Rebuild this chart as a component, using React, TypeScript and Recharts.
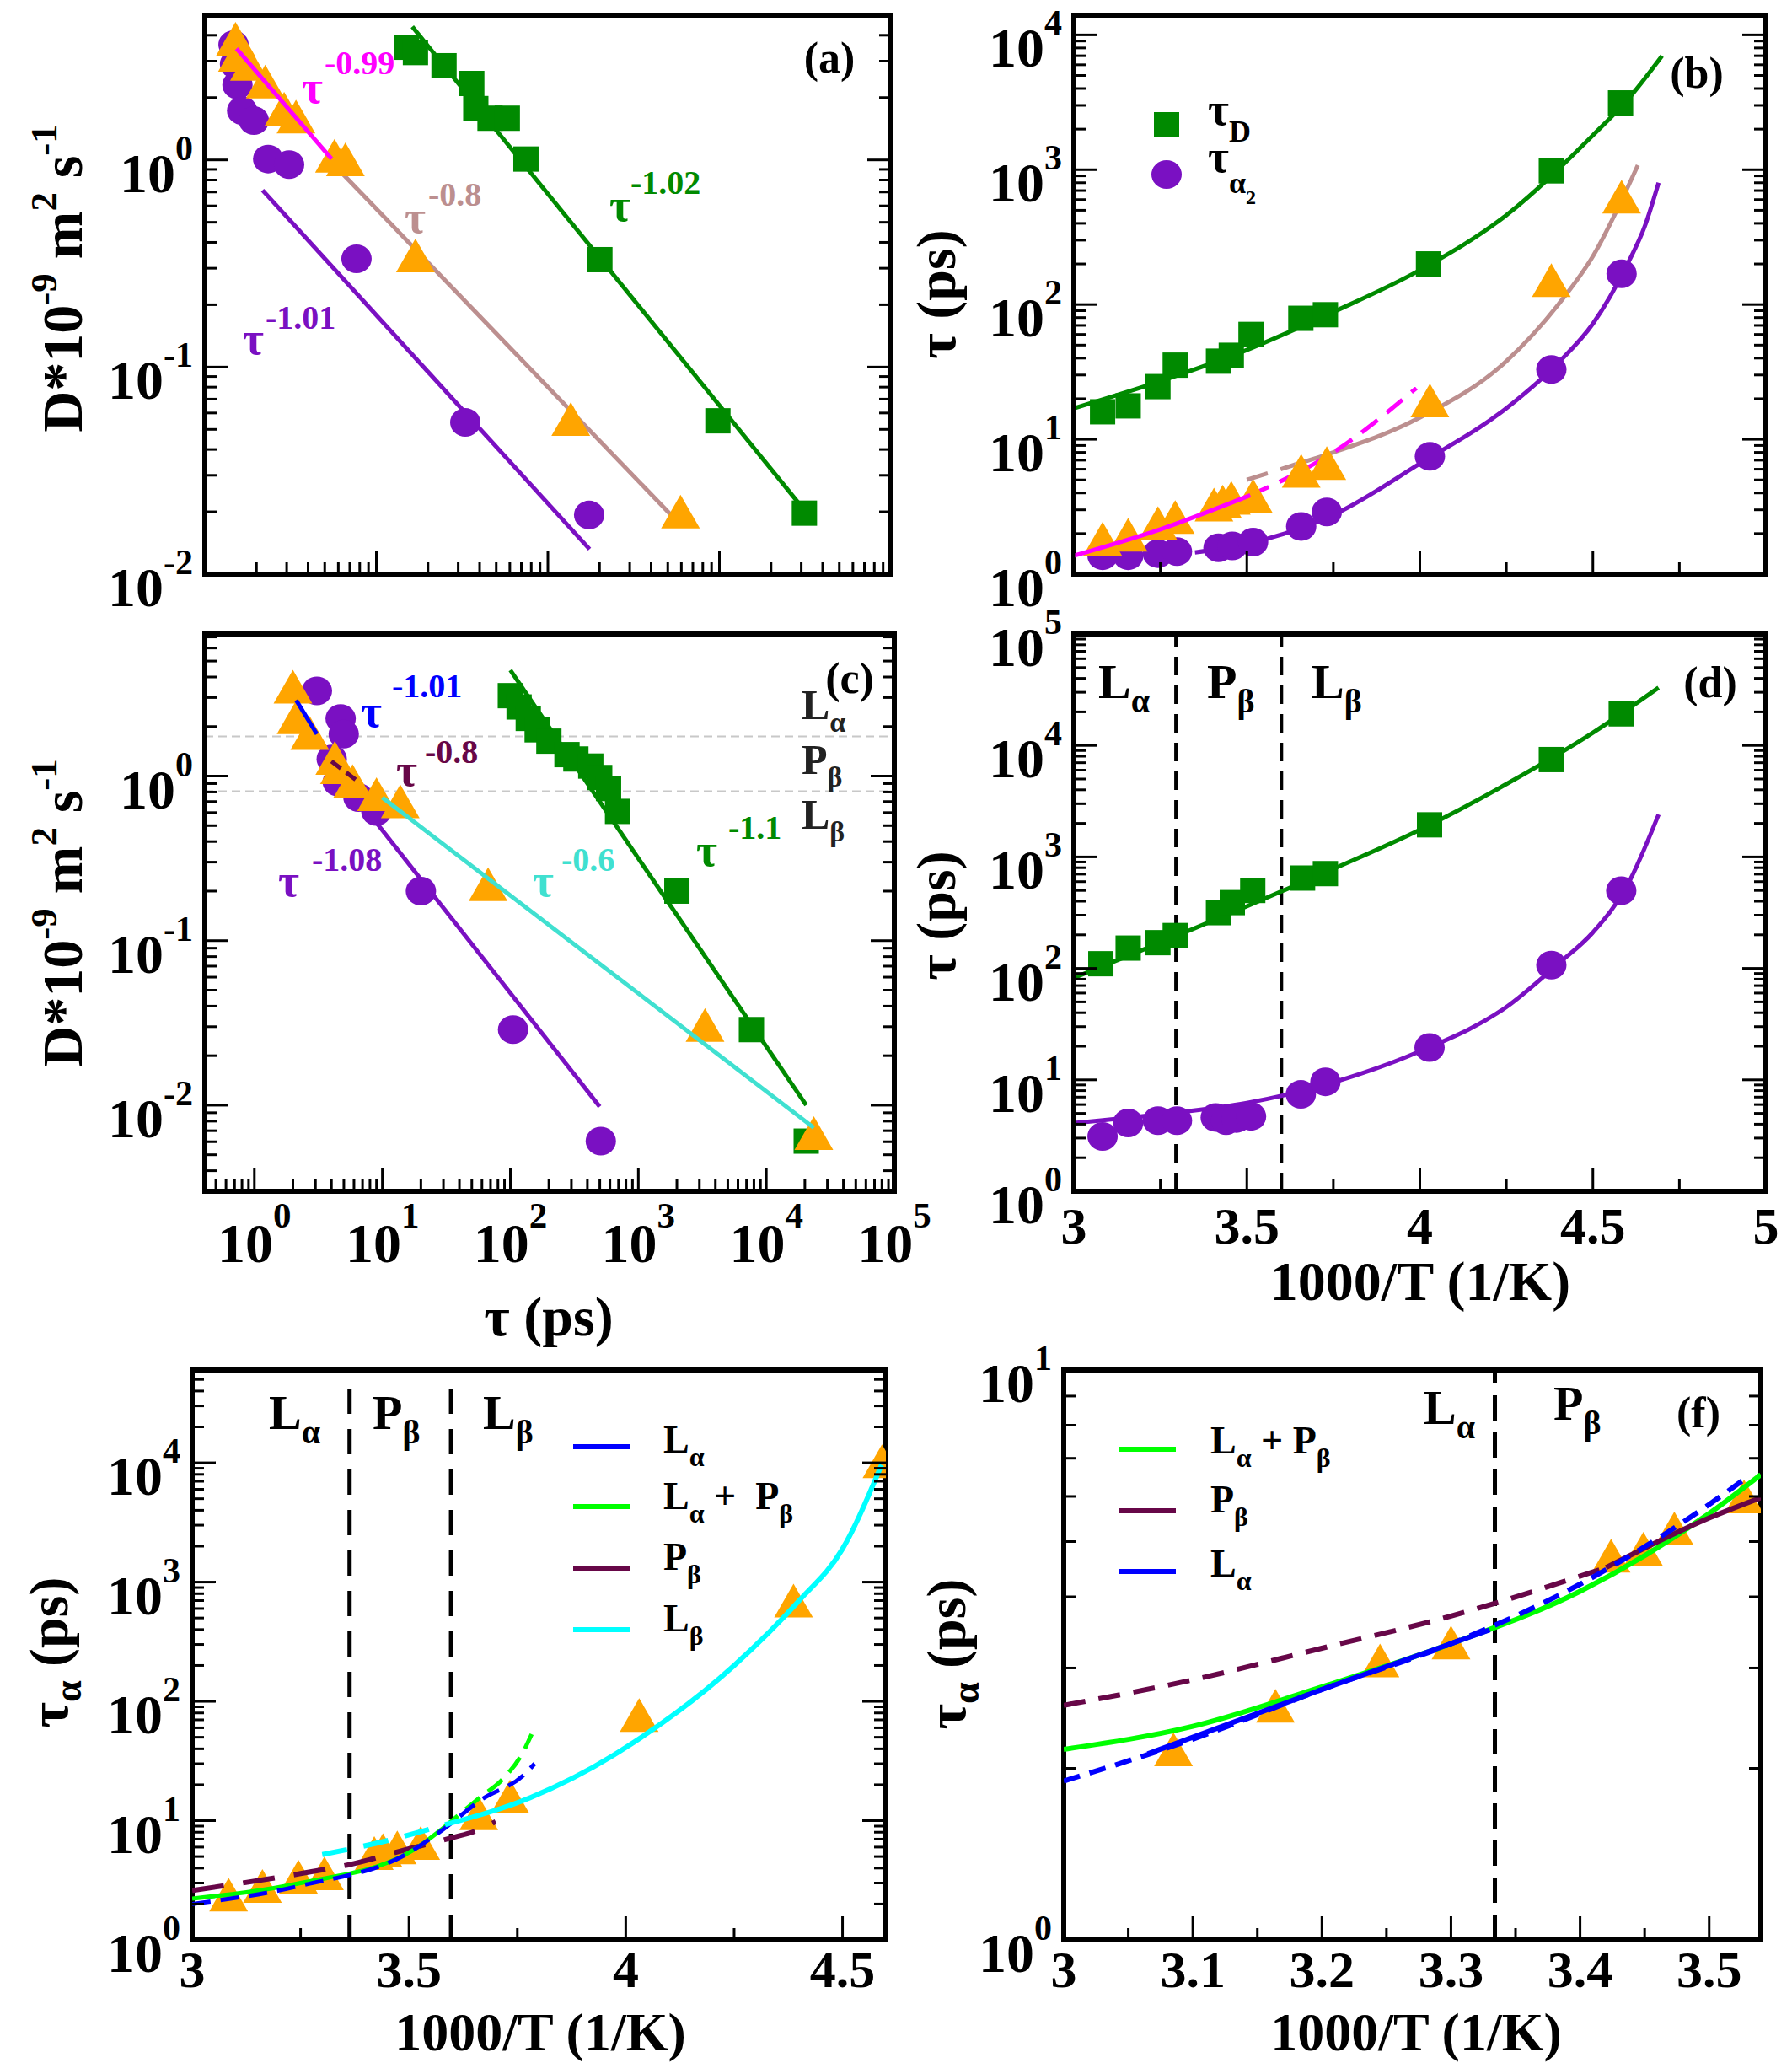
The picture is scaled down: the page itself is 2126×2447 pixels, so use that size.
import React from "react";
import { ComposedChart, XAxis, YAxis, Line, Scatter, ReferenceLine } from "recharts";

const FONT = "'Liberation Serif', 'Times New Roman', serif";
const GREEN = "#008a00";
const PURPLE = "#7a10c2";
const ORANGE = "#ffa500";
const ROSY = "#bc8f8f";
const MAGENTA = "#ff00ff";
const BLUE = "#0000ff";
const MAROON = "#670748";
const TURQ = "#40e0d0";
const CYAN = "#00ffff";
const LIME = "#00ff00";

// ---------- (a) D vs tau, log-log
const aSquares = [[15, 3.5], [16.9, 3.3], [24.8, 2.85], [36, 2.34], [38, 1.77], [46, 1.59], [58, 1.59], [74.5, 1.01], [201, 0.33], [980, 0.055], [3130, 0.0197]];
const aCircles = [[1.47, 3.6], [1.5, 2.9], [1.55, 2.3], [1.65, 1.73], [1.93, 1.55], [2.34, 1.01], [3.1, 0.95], [7.66, 0.333], [33, 0.054], [174, 0.0193]];
const aTriangles = [[1.51, 3.7], [1.55, 3.1], [1.82, 2.8], [2.25, 2.3], [2.9, 1.7], [3.4, 1.56], [5.7, 1.01], [6.6, 0.97], [16.9, 0.333], [136, 0.054], [593, 0.0193]];
const aFitGreen = [[16.2, 4.4], [2900, 0.022]];
const aFitPurple = [[2.17, 0.714], [175, 0.0132]];
const aFitMagenta = [[1.53, 3.45], [5.49, 1.01]];
const aFitBrown = [[6.4, 0.853], [593, 0.0173]];

// ---------- (b) tau vs 1000/T
const bSquares = [[3.083, 16], [3.157, 17.7], [3.243, 24.6], [3.293, 35.5], [3.418, 38], [3.455, 42], [3.512, 60], [3.656, 79], [3.727, 84], [4.025, 200], [4.38, 980], [4.58, 3130]];
const bCircles = [[3.083, 1.37], [3.157, 1.37], [3.243, 1.42], [3.298, 1.47], [3.418, 1.57], [3.458, 1.62], [3.518, 1.73], [3.657, 2.26], [3.731, 2.89], [4.029, 7.47], [4.38, 33], [4.583, 169]];
const bTriangles = [[3.083, 1.73], [3.157, 1.85], [3.243, 2.26], [3.293, 2.5], [3.405, 3.1], [3.43, 3.26], [3.455, 3.48], [3.518, 3.6], [3.657, 5.5], [3.731, 6.3], [4.029, 18.3], [4.38, 143], [4.583, 596]];
const bFitGreen = [[3.0, 17], [3.25, 27], [3.5, 46], [3.75, 88], [4.0, 180], [4.25, 460], [4.5, 1800], [4.6, 3300], [4.7, 7000]];
const bFitPurple = [[3.35, 1.45], [3.5, 1.68], [3.75, 2.75], [4.0, 6.6], [4.25, 17], [4.4, 37], [4.5, 72], [4.6, 200], [4.65, 380], [4.69, 800]];
const bFitBrownDash = [[3.5, 5.0], [3.64, 6.5]];
const bFitBrown = [[3.64, 6.5], [3.75, 8.0], [4.0, 14.5], [4.25, 38], [4.4, 100], [4.5, 228], [4.63, 1080]];
const bFitMagenta = [[3.0, 1.37], [3.25, 2.15], [3.51, 3.85]];
const bFitMagentaDash = [[3.51, 3.85], [3.75, 8.0], [3.99, 24]];

// ---------- (c) D vs tau, log-log
const cSquares = [[100, 3.08], [117, 2.63], [138, 2.24], [162, 1.91], [200, 1.63], [277, 1.35], [325, 1.27], [425, 1.15], [499, 0.98], [585, 0.84], [688, 0.61], [2000, 0.2], [7650, 0.0288], [20500, 0.00605]];
const cCircles = [[3.08, 3.29], [4.72, 2.24], [4.99, 1.8], [4.02, 1.27], [4.48, 0.92], [6.5, 0.74], [8.98, 0.61], [20, 0.2], [105, 0.0288], [509, 0.00605]];
const cTriangles = [[2.0, 3.33], [2.12, 2.17], [2.71, 1.74], [4.25, 1.23], [4.62, 1.08], [5.85, 0.89], [9.0, 0.74], [13.8, 0.67], [67, 0.21], [3320, 0.0293], [23500, 0.00645]];
const cFitBlue = [[2.12, 2.89], [3.08, 1.8]];
const cFitMaroon = [[4.0, 1.23], [6.2, 0.95]];
const cFitCyan = [[10, 0.74], [23500, 0.0073]];
const cFitPurple = [[9, 0.52], [499, 0.0098]];
const cFitGreen = [[100, 4.4], [20500, 0.01]];
const cPhaseLines = [1.74, 0.81];

// ---------- (d) tau vs 1000/T
const dSquares = [[3.078, 110], [3.157, 152], [3.243, 170], [3.293, 197], [3.418, 316], [3.458, 389], [3.517, 500], [3.661, 646], [3.727, 708], [4.028, 1940], [4.38, 7470], [4.582, 19200]];
const dCircles = [[3.083, 3.1], [3.157, 4.1], [3.243, 4.3], [3.298, 4.3], [3.41, 4.6], [3.44, 4.3], [3.47, 4.5], [3.512, 4.7], [3.656, 7.4], [3.727, 9.6], [4.028, 19.5], [4.38, 107], [4.582, 498]];
const dFitGreen = [[3.0, 82], [3.25, 170], [3.5, 360], [3.75, 780], [4.0, 1750], [4.25, 4500], [4.5, 13000], [4.69, 33000]];
const dFitPurple = [[3.0, 4.1], [3.25, 4.9], [3.5, 6.2], [3.75, 9.5], [4.0, 18], [4.25, 45], [4.4, 110], [4.5, 210], [4.6, 560], [4.69, 2400]];
const dPhases = [3.295, 3.6];

// ---------- (e) tau_alpha vs 1000/T
const eTriangles = [[3.084, 2.25], [3.162, 2.65], [3.245, 3.17], [3.305, 3.39], [3.42, 5.0], [3.44, 5.3], [3.473, 5.6], [3.527, 6.1], [3.661, 10.8], [3.733, 14.9], [4.031, 72], [4.387, 655], [4.591, 9660]];
const eMaroon = [[3.0, 2.6], [3.25, 3.6], [3.36, 4.26], [3.5, 5.8], [3.6, 7.2], [3.65, 8.1], [3.7, 9.8]];
const eBlue = [[3.0, 2.0], [3.25, 2.85], [3.5, 5.4], [3.58, 8.5], [3.667, 15], [3.764, 24], [3.79, 30]];
const eGreen = [[3.0, 2.22], [3.25, 3.0], [3.5, 5.4], [3.58, 8.7]];
const eGreenDash = [[3.58, 8.7], [3.667, 16], [3.713, 21.7], [3.764, 38], [3.783, 53]];
const eCyanDash = [[3.3, 5.2], [3.45, 6.8], [3.59, 9.4]];
const eCyan = [[3.59, 9.4], [3.78, 15.6], [3.97, 35], [4.0, 41], [4.25, 200], [4.4, 700], [4.5, 1900], [4.59, 9600]];
const ePhases = [3.363, 3.597];

// ---------- (f) zoom of (e)
const fTriangles = [[3.085, 2.13], [3.164, 2.54], [3.245, 3.05], [3.3, 3.28], [3.424, 4.66], [3.449, 4.79], [3.473, 5.2], [3.527, 5.92]];
const fGreen = [[3.0, 2.16], [3.1, 2.37], [3.2, 2.78], [3.3, 3.31], [3.4, 4.09], [3.5, 5.6], [3.54, 6.55]];
const fBlueDash = [[3.0, 1.9], [3.1, 2.25], [3.2, 2.75], [3.3, 3.31], [3.4, 4.21], [3.5, 5.81], [3.53, 6.5]];
const fBlue = [[3.065, 2.12], [3.2, 2.75], [3.33, 3.5]];
const fMaroonDash = [[3.0, 2.58], [3.1, 2.86], [3.2, 3.25], [3.3, 3.7], [3.42, 4.5]];
const fMaroon = [[3.42, 4.5], [3.5, 5.5], [3.54, 5.97]];
const fPhases = [3.334];

// ---------- axis ticks
function logTicks(lo: number, hi: number) {
  const out: number[] = [];
  for (let e = Math.floor(Math.log10(lo)); e <= Math.ceil(Math.log10(hi)); e++) {
    for (let m = 1; m < 10; m++) {
      const v = +(m * Math.pow(10, e)).toPrecision(6);
      if (v >= lo * 0.999 && v <= hi * 1.001) out.push(v);
    }
  }
  return out;
}
const TX_35 = [3, 3.25, 3.5, 3.75, 4, 4.25, 4.5, 4.75, 5];
const TX_35_MAJOR = [3, 3.5, 4, 4.5, 5];
const TX_E = [3, 3.25, 3.5, 3.75, 4, 4.25, 4.5];
const TX_E_MAJOR = [3, 3.5, 4, 4.5];
const TX_F = [3, 3.05, 3.1, 3.15, 3.2, 3.25, 3.3, 3.35, 3.4, 3.45, 3.5];
const TX_F_MAJOR = [3, 3.1, 3.2, 3.3, 3.4, 3.5];

type Ax = { domain: [number, number]; log: boolean; ticks: number[]; major: number[]; labels: boolean; dy?: number };

const aX: Ax = { domain: [1, 1e4], log: true, ticks: logTicks(1, 1e4), major: [1, 10, 100, 1000, 10000], labels: false };
const aY: Ax = { domain: [0.01, 5], log: true, ticks: logTicks(0.01, 5), major: [0.01, 0.1, 1], labels: true };
const bX: Ax = { domain: [3, 5], log: false, ticks: TX_35, major: TX_35_MAJOR, labels: false };
const bY: Ax = { domain: [1, 14000], log: true, ticks: logTicks(1, 14000), major: [1, 10, 100, 1000, 10000], labels: true };
const cX: Ax = { domain: [0.41, 1e5], log: true, ticks: logTicks(0.41, 1e5), major: [1, 10, 100, 1000, 10000, 100000], labels: true, dy: 84 };
const cY: Ax = { domain: [0.003, 7.3], log: true, ticks: logTicks(0.003, 7.3), major: [0.01, 0.1, 1], labels: true };
const dX: Ax = { domain: [3, 5], log: false, ticks: TX_35, major: TX_35_MAJOR, labels: true, dy: 62 };
const dY: Ax = { domain: [1, 1e5], log: true, ticks: logTicks(1, 1e5), major: [1, 10, 100, 1000, 10000, 100000], labels: true };
const eX: Ax = { domain: [3, 4.6], log: false, ticks: TX_E, major: TX_E_MAJOR, labels: true, dy: 56 };
const eY: Ax = { domain: [1, 60000], log: true, ticks: logTicks(1, 60000), major: [1, 10, 100, 1000, 10000], labels: true };
const fX: Ax = { domain: [3, 3.54], log: false, ticks: TX_F, major: TX_F_MAJOR, labels: true, dy: 56 };
const fY: Ax = { domain: [1, 10], log: true, ticks: logTicks(1, 10), major: [1, 10], labels: true };

// plot boxes (page pixels)
const A = { x: 243, y: 18, w: 814, h: 663 };
const B = { x: 1274, y: 18, w: 821, h: 663 };
const C = { x: 243, y: 752, w: 818, h: 661 };
const D = { x: 1274, y: 752, w: 821, h: 661 };
const E = { x: 228, y: 1625, w: 823, h: 676 };
const F = { x: 1262, y: 1625, w: 827, h: 676 };

// outer space around each plot box; the axes themselves take 1px each
const PAD = { top: 70, right: 90, bottom: 140, left: 200 };
const M = { top: PAD.top - 1, right: PAD.right - 1, bottom: PAD.bottom - 1, left: PAD.left - 1 };
const FRAME = { stroke: "#000", strokeWidth: 6, strokeLinecap: "square" as const };
const MAJ = 28;
const MIN = 14;

const isMaj = (v: number, major: number[]) => major.some((m) => Math.abs(m - v) <= 1e-6 * Math.max(1, Math.abs(m)));
const expOf = (v: number) => Math.round(Math.log10(v));

const bottomTick = (a: Ax) => (p: any) => {
  const v = p.payload.value;
  const maj = isMaj(v, a.major);
  return (
    <g>
      <line x1={p.x} x2={p.x} y1={p.y} y2={p.y - (maj ? MAJ : MIN)} stroke="#000" strokeWidth={3} />
      {maj && a.labels && (a.log ? (
        <text x={p.x} y={p.y + (a.dy ?? 86)} textAnchor="middle" fontFamily={FONT} fontWeight="bold" fontSize={66} fill="#000">
          10<tspan dy={-41} fontSize={43}>{expOf(v)}</tspan>
        </text>
      ) : (
        <text x={p.x} y={p.y + (a.dy ?? 62)} textAnchor="middle" fontFamily={FONT} fontWeight="bold" fontSize={62} fill="#000">
          {String(v)}
        </text>
      ))}
    </g>
  );
};
const topTick = (a: Ax) => (p: any) => {
  const maj = isMaj(p.payload.value, a.major);
  return <line x1={p.x} x2={p.x} y1={p.y} y2={p.y + (maj ? MAJ : MIN)} stroke="#000" strokeWidth={3} />;
};
const leftTick = (a: Ax) => (p: any) => {
  const v = p.payload.value;
  const maj = isMaj(v, a.major);
  return (
    <g>
      <line x1={p.x} x2={p.x + (maj ? MAJ : MIN)} y1={p.y} y2={p.y} stroke="#000" strokeWidth={3} />
      {maj && a.labels && (
        <text x={p.x - 14} y={p.y + 38} textAnchor="end" fontFamily={FONT} fontWeight="bold" fontSize={66} fill="#000">
          10<tspan dy={-38} fontSize={42}>{expOf(v)}</tspan>
        </text>
      )}
    </g>
  );
};
const rightTick = (a: Ax) => (p: any) => {
  const maj = isMaj(p.payload.value, a.major);
  return <line x1={p.x} x2={p.x - (maj ? MAJ : MIN)} y1={p.y} y2={p.y} stroke="#000" strokeWidth={3} />;
};

function Panel({ box, xa, ya, children }: any) {
  const common: any = { type: "number", allowDataOverflow: true, tickSize: 0, tickMargin: 0, tickLine: false, interval: 0, axisLine: FRAME };
  return (
    <div style={{ position: "absolute", left: box.x - PAD.left, top: box.y - PAD.top }}>
      <ComposedChart width={box.w + PAD.left + PAD.right} height={box.h + PAD.top + PAD.bottom} margin={M}>
        <XAxis xAxisId="b" orientation="bottom" dataKey="x" height={1} scale={xa.log ? "log" : "linear"} domain={xa.domain} ticks={xa.ticks} tick={bottomTick(xa)} {...common} />
        <XAxis xAxisId="t" orientation="top" height={1} scale={xa.log ? "log" : "linear"} domain={xa.domain} ticks={xa.ticks} tick={topTick(xa)} {...common} />
        <YAxis yAxisId="l" orientation="left" dataKey="y" width={1} scale={ya.log ? "log" : "linear"} domain={ya.domain} ticks={ya.ticks} tick={leftTick(ya)} {...common} />
        <YAxis yAxisId="r" orientation="right" width={1} scale={ya.log ? "log" : "linear"} domain={ya.domain} ticks={ya.ticks} tick={rightTick(ya)} {...common} />
        {children}
      </ComposedChart>
    </div>
  );
}

const pts = (a: number[][]) => a.map(([x, y]) => ({ x, y }));

const square = (c: string) => (p: any) => <rect x={p.cx - 15} y={p.cy - 15} width={30} height={30} fill={c} />;
const circle = (c: string) => (p: any) => <ellipse cx={p.cx} cy={p.cy} rx={18} ry={17} fill={c} />;
const triangle = (c: string) => (p: any) => (
  <polygon points={`${p.cx},${p.cy - 24} ${p.cx - 23},${p.cy + 16} ${p.cx + 23},${p.cy + 16}`} fill={c} />
);

function dots(key: string, data: number[][], shape: any) {
  return <Scatter key={key} xAxisId="b" yAxisId="l" dataKey="y" data={pts(data)} shape={shape} isAnimationActive={false} />;
}
function curve(key: string, data: number[][], color: string, opts: { linear?: boolean; dash?: string; w?: number; top?: boolean } = {}) {
  const z: any = opts.top ? { zIndex: 700 } : {};
  return (
    <Line key={key} xAxisId="b" yAxisId="l" data={pts(data)} dataKey="y" type={opts.linear ? "linear" : "monotone"}
      stroke={color} strokeWidth={opts.w ?? 5} strokeDasharray={opts.dash} dot={false} activeDot={false} isAnimationActive={false} {...z} />
  );
}
function vline(key: string, x: number, dash = "22 12", w = 4) {
  return <ReferenceLine key={key} xAxisId="b" yAxisId="l" x={x} stroke="#000" strokeWidth={w} strokeDasharray={dash} />;
}
function hline(key: string, y: number) {
  return <ReferenceLine key={key} xAxisId="b" yAxisId="l" y={y} stroke="#c8c8c8" strokeWidth={2} strokeDasharray="10 6" />;
}

function Pow({ tx, ty, ex, ey, exp, color, s = 54, es = 40 }: any) {
  return (
    <g fill={color}>
      <text x={tx} y={ty} fontSize={s}>τ</text>
      <text x={ex} y={ey} fontSize={es}>{exp}</text>
    </g>
  );
}
function SubT({ x, y, main, sub, s = 58, ss = 40, dy = 17 }: any) {
  return (
    <text x={x} y={y} fontSize={s}>
      {main}<tspan dy={dy} fontSize={ss}>{sub}</tspan>
    </text>
  );
}

export default function App() {
  return (
    <div style={{ position: "absolute", left: 0, top: 0, width: 2126, height: 2447, background: "#fff", overflow: "hidden" }}>
      <Panel box={A} xa={aX} ya={aY}>
        {dots("as", aSquares, square(GREEN))}
        {dots("ac", aCircles, circle(PURPLE))}
        {dots("at", aTriangles, triangle(ORANGE))}
        {curve("ag", aFitGreen, GREEN, { linear: true })}
        {curve("ap", aFitPurple, PURPLE, { linear: true })}
        {curve("ab", aFitBrown, ROSY, { linear: true })}
        {curve("am", aFitMagenta, MAGENTA, { linear: true, top: true })}
      </Panel>

      <Panel box={B} xa={bX} ya={bY}>
        {dots("bs", bSquares, square(GREEN))}
        {dots("bc", bCircles, circle(PURPLE))}
        {dots("bt", bTriangles, triangle(ORANGE))}
        {curve("bg", bFitGreen, GREEN)}
        {curve("bp", bFitPurple, PURPLE)}
        {curve("bbd", bFitBrownDash, ROSY, { dash: "26 16" })}
        {curve("bb", bFitBrown, ROSY)}
        {curve("bm", bFitMagenta, MAGENTA, { top: true })}
        {curve("bmd", bFitMagentaDash, MAGENTA, { dash: "24 14" })}
      </Panel>

      <Panel box={C} xa={cX} ya={cY}>
        {cPhaseLines.map((y, i) => hline("ch" + i, y))}
        {dots("cs", cSquares, square(GREEN))}
        {dots("cc", cCircles, circle(PURPLE))}
        {dots("ct", cTriangles, triangle(ORANGE))}
        {curve("cg", cFitGreen, GREEN, { linear: true })}
        {curve("cp", cFitPurple, PURPLE, { linear: true })}
        {curve("ccy", cFitCyan, TURQ, { linear: true, top: true })}
        {curve("cb", cFitBlue, BLUE, { linear: true, top: true })}
        {curve("cm", cFitMaroon, MAROON, { linear: true, dash: "14 8", top: true })}
      </Panel>

      <Panel box={D} xa={dX} ya={dY}>
        {dPhases.map((x, i) => vline("dv" + i, x))}
        {dots("ds", dSquares, square(GREEN))}
        {dots("dc", dCircles, circle(PURPLE))}
        {curve("dg", dFitGreen, GREEN)}
        {curve("dp", dFitPurple, PURPLE)}
      </Panel>

      <Panel box={E} xa={eX} ya={eY}>
        {ePhases.map((x, i) => vline("ev" + i, x, "30 18", 5))}
        {dots("et", eTriangles, triangle(ORANGE))}
        {curve("em", eMaroon, MAROON, { dash: "38 23", w: 6, top: true })}
        {curve("eg", eGreen, LIME, { top: true })}
        {curve("egd", eGreenDash, LIME, { dash: "22 12", top: true })}
        {curve("eb", eBlue, BLUE, { dash: "22 12", top: true })}
        {curve("ecd", eCyanDash, CYAN, { dash: "30 20", w: 6, top: true })}
        {curve("ec", eCyan, CYAN, { w: 6, top: true })}
      </Panel>

      <Panel box={F} xa={fX} ya={fY}>
        {fPhases.map((x, i) => vline("fv" + i, x, "30 14", 5))}
        {dots("ft", fTriangles, triangle(ORANGE))}
        {curve("fg", fGreen, LIME, { w: 6, top: true })}
        {curve("fmd", fMaroonDash, MAROON, { dash: "26 16", w: 6, top: true })}
        {curve("fm", fMaroon, MAROON, { w: 6, top: true })}
        {curve("fbd", fBlueDash, BLUE, { dash: "20 12", w: 6, top: true })}
        {curve("fb", fBlue, BLUE, { w: 6, top: true })}
      </Panel>

      <svg width={2126} height={2447} style={{ position: "absolute", left: 0, top: 0, pointerEvents: "none" }} fontFamily={FONT} fontWeight="bold">
        {/* panel tags */}
        <g fontSize={52} textAnchor="middle">
          <text x={984} y={86}>(a)</text>
          <text x={2013} y={104}>(b)</text>
          <text x={1008} y={822}>(c)</text>
          <text x={2029} y={827}>(d)</text>
          <text x={2015} y={1693}>(f)</text>
        </g>

        {/* axis titles */}
        <g fontSize={68}>
          <text transform="translate(97,330) rotate(-90)" textAnchor="middle">
            D*10<tspan dy={-30} fontSize={45}>-9</tspan><tspan dy={30}>{"\u00a0m"}</tspan><tspan dy={-30} fontSize={45}>2</tspan><tspan dy={30}>{"\u00a0s"}</tspan><tspan dy={-30} fontSize={45}>-1</tspan>
          </text>
          <text transform="translate(97,1083) rotate(-90)" textAnchor="middle">
            D*10<tspan dy={-30} fontSize={45}>-9</tspan><tspan dy={30}>{"\u00a0m"}</tspan><tspan dy={-30} fontSize={45}>2</tspan><tspan dy={30}>{"\u00a0s"}</tspan><tspan dy={-30} fontSize={45}>-1</tspan>
          </text>
        </g>
        <g fontSize={66}>
          <text transform="translate(1133,349) rotate(-90)" textAnchor="middle">τ (ps)</text>
          <text transform="translate(1133,1086) rotate(-90)" textAnchor="middle">τ (ps)</text>
          <text transform="translate(80,1960) rotate(-90)" textAnchor="middle">
            τ<tspan dy={16} fontSize={46}>α</tspan><tspan dy={-16}>{"\u00a0(ps)"}</tspan>
          </text>
          <text transform="translate(1145,1962) rotate(-90)" textAnchor="middle">
            τ<tspan dy={16} fontSize={46}>α</tspan><tspan dy={-16}>{"\u00a0(ps)"}</tspan>
          </text>
          <text x={651} y={1584} textAnchor="middle">τ (ps)</text>
          <text x={1685} y={1542} textAnchor="middle">1000/T (1/K)</text>
        </g>
        <g fontSize={64}>
          <text x={641} y={2432} textAnchor="middle">1000/T (1/K)</text>
          <text x={1680} y={2432} textAnchor="middle">1000/T (1/K)</text>
        </g>

        {/* power-law annotations (a) */}
        <Pow tx={358} ty={122} ex={385} ey={88} exp="-0.99" color={MAGENTA} />
        <Pow tx={480} ty={276} ex={508} ey={244} exp="-0.8" color={ROSY} />
        <Pow tx={723} ty={262} ex={748} ey={230} exp="-1.02" color={GREEN} />
        <Pow tx={288} ty={420} ex={315} ey={390} exp="-1.01" color={PURPLE} />
        {/* power-law annotations (c) */}
        <Pow tx={428} ty={862} ex={465} ey={827} exp="-1.01" color={BLUE} />
        <Pow tx={470} ty={932} ex={504} ey={905} exp="-0.8" color={MAROON} />
        <Pow tx={330} ty={1063} ex={370} ey={1033} exp="-1.08" color={PURPLE} />
        <Pow tx={632} ty={1063} ex={666} ey={1033} exp="-0.6" color={TURQ} />
        <Pow tx={826} ty={1027} ex={864} ey={995} exp="-1.1" color={GREEN} />

        {/* phase tags */}
        <g fill="#222">
          <SubT x={951} y={853} main="L" sub="α" s={50} ss={34} dy={15} />
          <SubT x={951} y={918} main="P" sub="β" s={50} ss={34} dy={15} />
          <SubT x={951} y={983} main="L" sub="β" s={50} ss={34} dy={15} />
        </g>
        <SubT x={1303} y={828} main="L" sub="α" />
        <SubT x={1432} y={828} main="P" sub="β" />
        <SubT x={1556} y={828} main="L" sub="β" />
        <SubT x={319} y={1695} main="L" sub="α" />
        <SubT x={442} y={1695} main="P" sub="β" />
        <SubT x={573} y={1695} main="L" sub="β" />
        <SubT x={1689} y={1689} main="L" sub="α" />
        <SubT x={1843} y={1684} main="P" sub="β" />

        {/* legend (b) */}
        <rect x={1369} y={133} width={30} height={30} fill={GREEN} />
        <ellipse cx={1384} cy={207} rx={18} ry={17} fill={PURPLE} />
        <text x={1433} y={148} fontSize={54}>
          τ<tspan dy={20} fontSize={36}>D</tspan>
          <tspan x={1433} y={204}>τ</tspan><tspan dy={25} fontSize={36}>α</tspan><tspan dy={13} fontSize={24}>2</tspan>
        </text>

        {/* legend (e) */}
        <g strokeWidth={6}>
          <line x1={680} x2={747} y1={1716} y2={1716} stroke={BLUE} />
          <line x1={680} x2={747} y1={1787} y2={1787} stroke={LIME} />
          <line x1={680} x2={747} y1={1860} y2={1860} stroke={MAROON} />
          <line x1={680} x2={747} y1={1933} y2={1933} stroke={CYAN} />
        </g>
        <SubT x={787} y={1723} main="L" sub="α" s={46} ss={32} dy={16} />
        <text x={787} y={1790} fontSize={46}>
          L<tspan dy={16} fontSize={32}>α</tspan><tspan dy={-16}>{"\u00a0+\u00a0\u00a0P"}</tspan><tspan dy={16} fontSize={32}>β</tspan>
        </text>
        <SubT x={787} y={1862} main="P" sub="β" s={46} ss={32} dy={16} />
        <SubT x={787} y={1935} main="L" sub="β" s={46} ss={32} dy={16} />

        {/* legend (f) */}
        <g strokeWidth={6}>
          <line x1={1327} x2={1395} y1={1719} y2={1719} stroke={LIME} />
          <line x1={1327} x2={1395} y1={1792} y2={1792} stroke={MAROON} />
          <line x1={1327} x2={1395} y1={1864} y2={1864} stroke={BLUE} />
        </g>
        <text x={1436} y={1724} fontSize={46}>
          L<tspan dy={16} fontSize={32}>α</tspan><tspan dy={-16}>{"\u00a0+\u00a0P"}</tspan><tspan dy={16} fontSize={32}>β</tspan>
        </text>
        <SubT x={1436} y={1794} main="P" sub="β" s={46} ss={32} dy={16} />
        <SubT x={1436} y={1870} main="L" sub="α" s={46} ss={32} dy={16} />
      </svg>
    </div>
  );
}
